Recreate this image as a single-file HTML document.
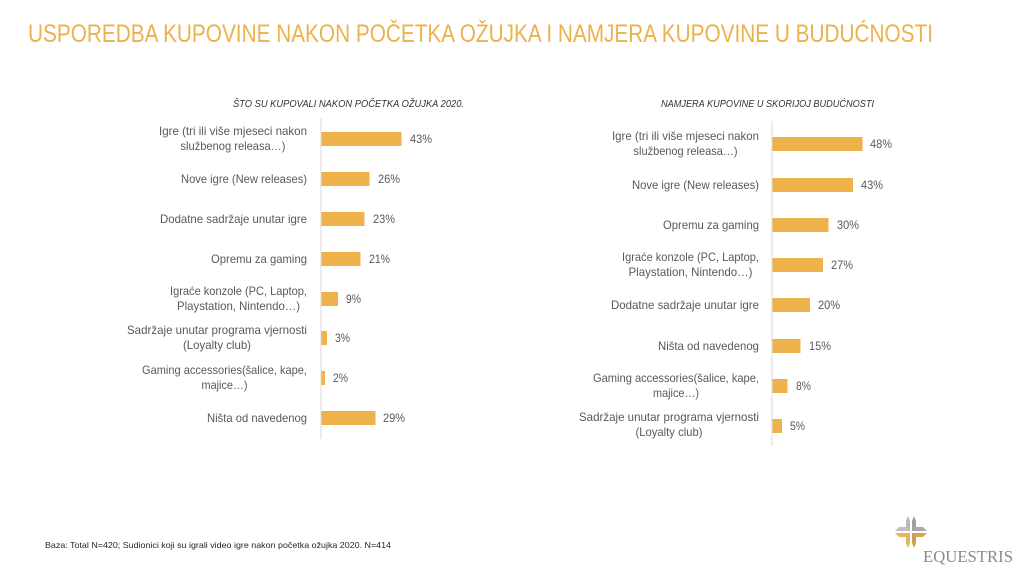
<!DOCTYPE html>
<html>
<head>
<meta charset="utf-8">
<style>
html,body{margin:0;padding:0;background:#fff;}
svg{display:block;}
text{font-family:"Liberation Sans",sans-serif;}
</style>
</head>
<body>
<svg width="1024" height="576" viewBox="0 0 1024 576" xmlns="http://www.w3.org/2000/svg">
<rect width="1024" height="576" fill="#fff"/>
<!-- Title -->
<text x="28" y="42" font-size="25" fill="#ECB14A" textLength="905" lengthAdjust="spacingAndGlyphs">USPOREDBA KUPOVINE NAKON POČETKA OŽUJKA I NAMJERA KUPOVINE U BUDUĆNOSTI</text>

<!-- Subtitles -->
<text x="233" y="107" font-size="10.5" font-style="italic" fill="#333" textLength="231" lengthAdjust="spacingAndGlyphs">ŠTO SU KUPOVALI NAKON POČETKA OŽUJKA 2020.</text>
<text x="661" y="107" font-size="10.5" font-style="italic" fill="#333" textLength="213" lengthAdjust="spacingAndGlyphs">NAMJERA KUPOVINE U SKORIJOJ BUDUĆNOSTI</text>

<!-- LEFT CHART -->
<line x1="321" y1="118" x2="321" y2="439" stroke="#d9d9d9" stroke-width="1"/>
<g fill="#EDB34A">
<rect x="321.5" y="132" width="80" height="14"/>
<rect x="321.5" y="172" width="48" height="14"/>
<rect x="321.5" y="212" width="43" height="14"/>
<rect x="321.5" y="252" width="39" height="14"/>
<rect x="321.5" y="292" width="16.5" height="14"/>
<rect x="321.5" y="331" width="5.5" height="14"/>
<rect x="321.5" y="371" width="3.5" height="14"/>
<rect x="321.5" y="411" width="54" height="14"/>
</g>
<g font-size="12" fill="#595959">
<text x="233" y="135" text-anchor="middle" textLength="148" lengthAdjust="spacingAndGlyphs">Igre (tri ili više mjeseci nakon</text>
<text x="233" y="150" text-anchor="middle" textLength="105" lengthAdjust="spacingAndGlyphs">službenog releasa…)</text>
<text x="307" y="183" text-anchor="end" textLength="126" lengthAdjust="spacingAndGlyphs">Nove igre (New releases)</text>
<text x="307" y="223" text-anchor="end" textLength="147" lengthAdjust="spacingAndGlyphs">Dodatne sadržaje unutar igre</text>
<text x="307" y="263" text-anchor="end" textLength="96" lengthAdjust="spacingAndGlyphs">Opremu za gaming</text>
<text x="238.5" y="295" text-anchor="middle" textLength="137" lengthAdjust="spacingAndGlyphs">Igraće konzole (PC, Laptop,</text>
<text x="238.5" y="310" text-anchor="middle" textLength="123" lengthAdjust="spacingAndGlyphs">Playstation, Nintendo…)</text>
<text x="217" y="334" text-anchor="middle" textLength="180" lengthAdjust="spacingAndGlyphs">Sadržaje unutar programa vjernosti</text>
<text x="217" y="349" text-anchor="middle" textLength="68" lengthAdjust="spacingAndGlyphs">(Loyalty club)</text>
<text x="224.5" y="374" text-anchor="middle" textLength="165" lengthAdjust="spacingAndGlyphs">Gaming accessories(šalice, kape,</text>
<text x="224.5" y="389" text-anchor="middle" textLength="46" lengthAdjust="spacingAndGlyphs">majice…)</text>
<text x="307" y="422" text-anchor="end" textLength="100" lengthAdjust="spacingAndGlyphs">Ništa od navedenog</text>

<text x="410" y="143" textLength="22" lengthAdjust="spacingAndGlyphs">43%</text>
<text x="378" y="183" textLength="22" lengthAdjust="spacingAndGlyphs">26%</text>
<text x="373" y="223" textLength="22" lengthAdjust="spacingAndGlyphs">23%</text>
<text x="369" y="263" textLength="21" lengthAdjust="spacingAndGlyphs">21%</text>
<text x="346" y="303" textLength="15" lengthAdjust="spacingAndGlyphs">9%</text>
<text x="335" y="342" textLength="15" lengthAdjust="spacingAndGlyphs">3%</text>
<text x="333" y="382" textLength="15" lengthAdjust="spacingAndGlyphs">2%</text>
<text x="383" y="422" textLength="22" lengthAdjust="spacingAndGlyphs">29%</text>
</g>

<!-- RIGHT CHART -->
<line x1="772" y1="121" x2="772" y2="446" stroke="#d9d9d9" stroke-width="1"/>
<g fill="#EDB34A">
<rect x="772.5" y="137" width="90" height="14"/>
<rect x="772.5" y="178" width="80.5" height="14"/>
<rect x="772.5" y="218" width="56" height="14"/>
<rect x="772.5" y="258" width="50.5" height="14"/>
<rect x="772.5" y="298" width="37.5" height="14"/>
<rect x="772.5" y="339" width="28" height="14"/>
<rect x="772.5" y="379" width="15" height="14"/>
<rect x="772.5" y="419" width="9.5" height="14"/>
</g>
<g font-size="12" fill="#595959">
<text x="685.5" y="140" text-anchor="middle" textLength="147" lengthAdjust="spacingAndGlyphs">Igre (tri ili više mjeseci nakon</text>
<text x="685.5" y="155" text-anchor="middle" textLength="104" lengthAdjust="spacingAndGlyphs">službenog releasa…)</text>
<text x="759" y="189" text-anchor="end" textLength="127" lengthAdjust="spacingAndGlyphs">Nove igre (New releases)</text>
<text x="759" y="229" text-anchor="end" textLength="96" lengthAdjust="spacingAndGlyphs">Opremu za gaming</text>
<text x="690.5" y="261" text-anchor="middle" textLength="137" lengthAdjust="spacingAndGlyphs">Igraće konzole (PC, Laptop,</text>
<text x="690.5" y="276" text-anchor="middle" textLength="124" lengthAdjust="spacingAndGlyphs">Playstation, Nintendo…)</text>
<text x="759" y="309" text-anchor="end" textLength="148" lengthAdjust="spacingAndGlyphs">Dodatne sadržaje unutar igre</text>
<text x="759" y="350" text-anchor="end" textLength="101" lengthAdjust="spacingAndGlyphs">Ništa od navedenog</text>
<text x="676" y="382" text-anchor="middle" textLength="166" lengthAdjust="spacingAndGlyphs">Gaming accessories(šalice, kape,</text>
<text x="676" y="397" text-anchor="middle" textLength="46" lengthAdjust="spacingAndGlyphs">majice…)</text>
<text x="669" y="421" text-anchor="middle" textLength="180" lengthAdjust="spacingAndGlyphs">Sadržaje unutar programa vjernosti</text>
<text x="669" y="436" text-anchor="middle" textLength="67" lengthAdjust="spacingAndGlyphs">(Loyalty club)</text>

<text x="870" y="148" textLength="22" lengthAdjust="spacingAndGlyphs">48%</text>
<text x="861" y="189" textLength="22" lengthAdjust="spacingAndGlyphs">43%</text>
<text x="837" y="229" textLength="22" lengthAdjust="spacingAndGlyphs">30%</text>
<text x="831" y="269" textLength="22" lengthAdjust="spacingAndGlyphs">27%</text>
<text x="818" y="309" textLength="22" lengthAdjust="spacingAndGlyphs">20%</text>
<text x="809" y="350" textLength="22" lengthAdjust="spacingAndGlyphs">15%</text>
<text x="796" y="390" textLength="15" lengthAdjust="spacingAndGlyphs">8%</text>
<text x="790" y="430" textLength="15" lengthAdjust="spacingAndGlyphs">5%</text>
</g>

<!-- Footer -->
<text x="45" y="548" font-size="8.5" fill="#262626" textLength="346" lengthAdjust="spacingAndGlyphs">Baza: Total N=420; Sudionici koji su igrali video igre nakon početka ožujka 2020. N=414</text>

<!-- Logo -->
<g>
  <polygon points="906,531 906,521 908,516 910,521 910,531" fill="#b8b8b8"/>
  <polygon points="912,531 912,521 914,516 916,521 916,531" fill="#a0a0a0"/>
  <polygon points="895,531 899,527 908,527 908,531" fill="#c0c0c0"/>
  <polygon points="914,531 914,527 923,527 927,531" fill="#aaaaaa"/>
  <polygon points="895,533 908,533 908,537 899,537" fill="#E6B560"/>
  <polygon points="914,533 927,533 923,537 914,537" fill="#D9A54E"/>
  <polygon points="906,533 910,533 910,543 908,548 906,543" fill="#E6B560"/>
  <polygon points="912,533 916,533 916,543 914,548 912,543" fill="#D0A050"/>
</g>
<text x="923" y="562" font-size="17" fill="#8a8a8a" textLength="90" lengthAdjust="spacingAndGlyphs" style="font-family:'Liberation Serif',serif">EQUESTRIS</text>
</svg>
</body>
</html>
